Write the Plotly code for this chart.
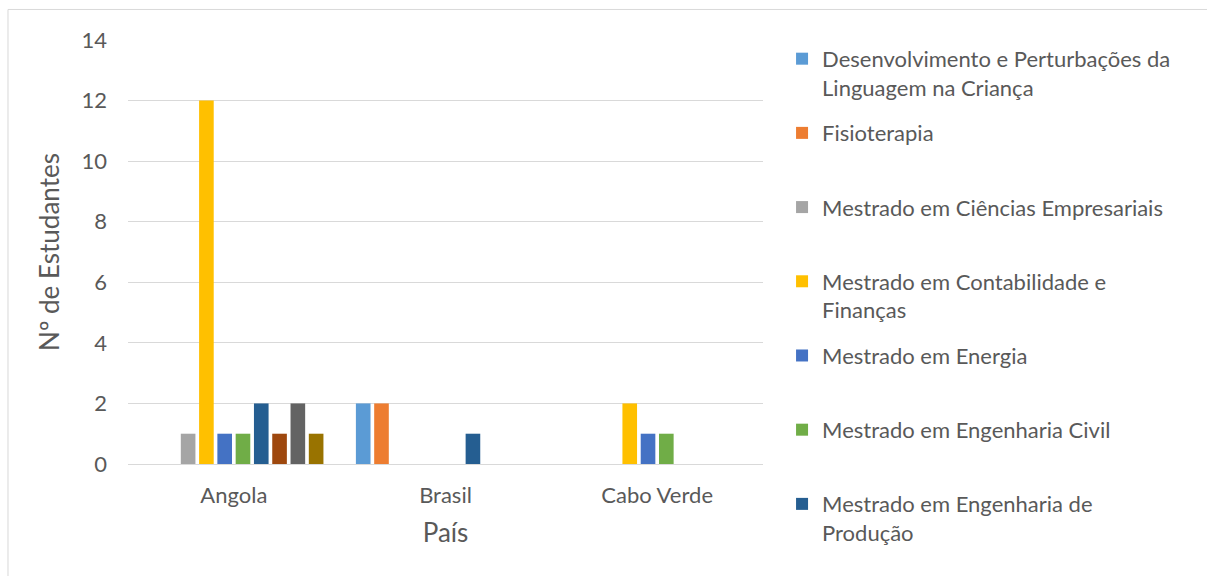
import plotly.graph_objects as go

# Countries on the category axis
paises = ["Angola", "Brasil", "Cabo Verde"]

# Students per course (one list per course, values per country)
cursos = [
    "Desenvolvimento e Perturbações da<br>Linguagem na Criança",
    "Fisioterapia",
    "Mestrado em Ciências Empresariais",
    "Mestrado em Contabilidade e<br>Finanças",
    "Mestrado em Energia",
    "Mestrado em Engenharia Civil",
    "Mestrado em Engenharia de<br>Produção",
    "Curso 8",
    "Curso 9",
    "Curso 10",
]
desenvolvimento = [0, 2, 0]
fisioterapia = [0, 2, 0]
ciencias_empresariais = [1, 0, 0]
contabilidade = [12, 0, 2]
energia = [1, 0, 1]
eng_civil = [1, 0, 1]
eng_producao = [2, 1, 0]
curso_8 = [1, 0, 0]
curso_9 = [2, 0, 0]
curso_10 = [1, 0, 0]

valores = [desenvolvimento, fisioterapia, ciencias_empresariais, contabilidade,
           energia, eng_civil, eng_producao, curso_8, curso_9, curso_10]

cores = ["#5B9BD5", "#ED7D31", "#A5A5A5", "#FFC000", "#4472C4",
         "#70AD47", "#255E91", "#9E480E", "#636363", "#997300"]

# only the first seven courses fit in the legend box
mostrar = [True] * 7 + [False] * 3

FONTE = "Lato"
CINZA = "#595959"
TAM = 22

fig = go.Figure()
for nome, v, cor, leg in zip(cursos, valores, cores, mostrar):
    texto = nome if "<br>" in nome else nome + "<br> "
    fig.add_trace(go.Bar(
        x=paises, y=v, name=texto, marker_color=cor,
        marker_line_width=0, showlegend=leg, legendgroup=nome,
    ))

fig.update_layout(
    width=1207, height=576,
    margin=dict(l=128, r=444, t=40, b=112),
    paper_bgcolor="white", plot_bgcolor="white",
    barmode="group", bargap=0.136, bargroupgap=0.2,
    font=dict(family=FONTE, size=TAM, color=CINZA),
    legend=dict(
        x=1.03, y=1.005, xanchor="left", yanchor="top",
        traceorder="grouped", tracegroupgap=14, valign="top",
        font=dict(family=FONTE, size=TAM, color=CINZA),
        itemwidth=30, maxheight=570,
    ),
    xaxis=dict(
        title=dict(text="País", standoff=16),
        showgrid=False, showline=True, linecolor="#D9D9D9", linewidth=1,
        ticks="", ticklabelstandoff=12,
    ),
    yaxis=dict(
        title=dict(text="Nº de Estudantes", standoff=14),
        range=[0, 14], dtick=2, tick0=0,
        showgrid=True, gridcolor="#D9D9D9", gridwidth=1,
        zeroline=True, zerolinecolor="#D9D9D9", zerolinewidth=1,
        showline=False, ticks="", ticklabelstandoff=20,
    ),
    shapes=[dict(
        type="rect", xref="paper", yref="paper",
        x0=-0.189, x1=1.8, y0=-0.4, y1=1.072,
        line=dict(color="#D9D9D9", width=1), fillcolor="rgba(0,0,0,0)",
        layer="below",
    )],
)

fig.write_html("out.html")
